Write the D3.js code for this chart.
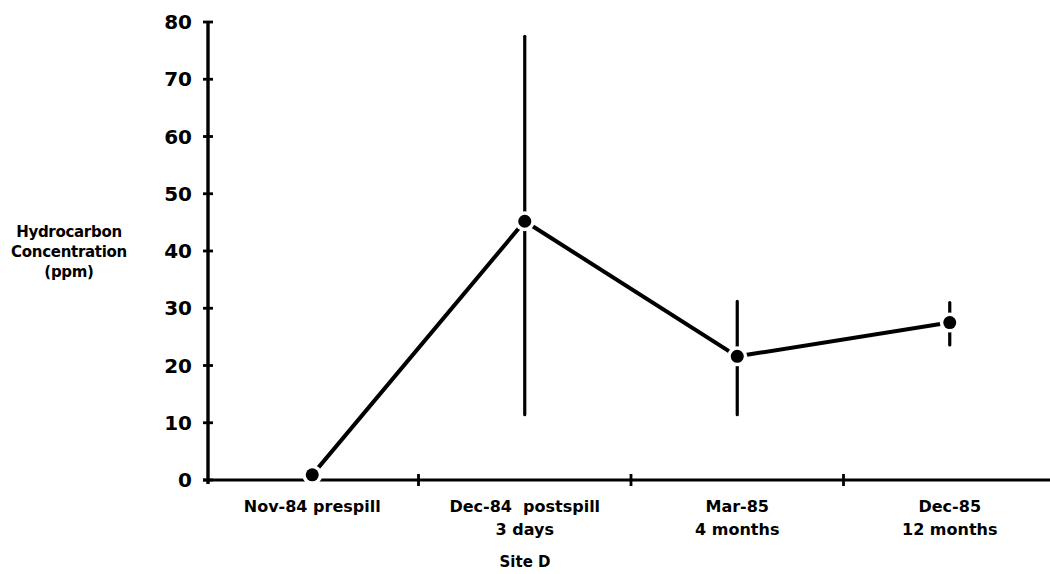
<!DOCTYPE html>
<html>
<head>
<meta charset="utf-8">
<script src="https://cdn.jsdelivr.net/npm/d3@7/dist/d3.min.js"></script>
<style>
  html, body { margin: 0; padding: 0; background: #fff; }
  svg { display: block; }
  text { font-family: "DejaVu Sans", "Liberation Sans", sans-serif; font-weight: bold; fill: #000; }
</style>
</head>
<body>
<svg id="chart" width="1050" height="574"></svg>
<script>
// Sampling dates at Site D and mean hydrocarbon concentration (ppm) with range
const categories = ["Nov-84 prespill", "Dec-84  postspill", "Mar-85", "Dec-85"];
const subLabels  = ["", "3 days", "4 months", "12 months"];
const means = [0.9, 45.2, 21.6, 27.5];
const lows  = [null, 11.4, 11.4, 23.6];
const highs = [null, 77.5, 31.2, 31.0];
const yTicks = [0, 10, 20, 30, 40, 50, 60, 70, 80];
const yTitle = ["Hydrocarbon", "Concentration", "(ppm)"];
const xTitle = "Site D";

const svg = d3.select("#chart");
const axisLeft = 208, axisBottom = 480, axisTop = 22;

const x = d3.scaleBand().domain(categories).range([206, 1056]).paddingInner(0).paddingOuter(0);
const y = d3.scaleLinear().domain([0, 80]).range([axisBottom, axisTop]);
const cx = c => x(c) + x.bandwidth() / 2;

// Y axis: ticks cross the axis line
const yAxis = svg.append("g");
yAxis.append("line")
  .attr("x1", axisLeft).attr("x2", axisLeft)
  .attr("y1", y(80)).attr("y2", y(0) + 4)
  .attr("stroke", "#000").attr("stroke-width", 3.4);
yAxis.selectAll("line.tick").data(yTicks).enter().append("line")
  .attr("class", "tick")
  .attr("x1", axisLeft - 5).attr("x2", axisLeft + 5)
  .attr("y1", d => y(d)).attr("y2", d => y(d))
  .attr("stroke", "#000").attr("stroke-width", 2.8);
yAxis.selectAll("text").data(yTicks).enter().append("text")
  .attr("x", axisLeft - 16).attr("y", d => y(d) + 7)
  .attr("text-anchor", "end")
  .style("font-size", "20px")
  .text(d => d);

// X axis with ticks on category boundaries
const xAxis = svg.append("g");
xAxis.append("line")
  .attr("x1", axisLeft - 5).attr("x2", 1050)
  .attr("y1", axisBottom).attr("y2", axisBottom)
  .attr("stroke", "#000").attr("stroke-width", 3.2);
xAxis.selectAll("line.tick").data(categories.slice(1)).enter().append("line")
  .attr("class", "tick")
  .attr("x1", d => x(d)).attr("x2", d => x(d))
  .attr("y1", axisBottom - 6).attr("y2", axisBottom + 6)
  .attr("stroke", "#000").attr("stroke-width", 2.8);
xAxis.selectAll("text.cat").data(categories).enter().append("text")
  .attr("class", "cat")
  .attr("x", d => cx(d)).attr("y", 512)
  .attr("text-anchor", "middle")
  .style("font-size", "16px")
  .style("white-space", "pre")
  .attr("xml:space", "preserve")
  .text(d => d);
xAxis.selectAll("text.sub").data(categories).enter().append("text")
  .attr("class", "sub")
  .attr("x", d => cx(d)).attr("y", 535)
  .attr("text-anchor", "middle")
  .style("font-size", "16px")
  .text((d, i) => subLabels[i]);
svg.append("text")
  .attr("x", 525).attr("y", 567)
  .attr("text-anchor", "middle")
  .style("font-size", "15px")
  .text(xTitle);

// Y axis title
svg.append("g").selectAll("text").data(yTitle).enter().append("text")
  .attr("x", 69).attr("y", (d, i) => 237 + i * 20)
  .attr("text-anchor", "middle")
  .style("font-size", "15px")
  .style("letter-spacing", "-0.3px")
  .text(d => d);

// Data
const pts = categories.map((c, i) => ({ c, m: means[i], lo: lows[i], hi: highs[i] }));

svg.append("path")
  .datum(pts)
  .attr("fill", "none")
  .attr("stroke", "#000")
  .attr("stroke-width", 4)
  .attr("d", d3.line().x(d => cx(d.c)).y(d => y(d.m)));

svg.append("g").selectAll("line").data(pts.filter(d => d.lo !== null)).enter().append("line")
  .attr("x1", d => cx(d.c)).attr("x2", d => cx(d.c))
  .attr("y1", d => y(d.lo)).attr("y2", d => y(d.hi))
  .attr("stroke", "#000").attr("stroke-width", 3.2)
  .attr("stroke-linecap", "round");

// White halo separates each marker from its lines
svg.append("g").selectAll("circle").data(pts).enter().append("circle")
  .attr("cx", d => cx(d.c)).attr("cy", d => y(d.m)).attr("r", 10)
  .attr("fill", "#fff");
svg.append("g").selectAll("circle").data(pts).enter().append("circle")
  .attr("cx", d => cx(d.c)).attr("cy", d => y(d.m)).attr("r", 6.5)
  .attr("fill", "#000");
</script>
</body>
</html>
